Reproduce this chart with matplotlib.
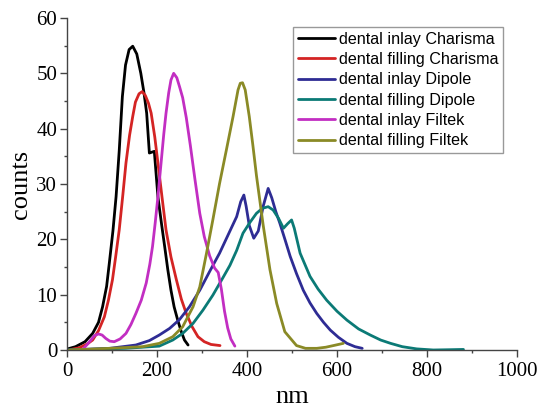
import matplotlib
matplotlib.use("Agg")
import matplotlib.pyplot as plt
from matplotlib.ticker import MultipleLocator

# Size distributions (x in nm, y in counts)
inlay_charisma_x = [1.5, 19, 40, 57, 70, 79, 88, 94, 102, 109, 116, 123, 130, 138, 146,
                    155, 164, 171, 177, 183, 194, 202, 210, 217, 224, 231, 238, 246, 254,
                    261, 269]
inlay_charisma_y = [0.2, 0.6, 1.5, 3.0, 5.0, 7.8, 11.5, 15.7, 21.5, 27.7, 36.0, 45.8, 51.5, 54.3, 54.9,
                    53.5, 50.0, 46.5, 42.8, 35.6, 35.9, 27.7, 22.8, 18.7, 14.5, 10.8, 7.8, 5.4, 3.3,
                    1.8, 0.9]

filling_charisma_x = [9, 27, 45, 57, 70, 83, 92, 101, 108, 116, 124, 131, 139, 146, 152,
                      160, 167, 174, 181, 187, 195, 202, 211, 220, 231, 243, 254, 265, 278,
                      291, 305, 320, 340]
filling_charisma_y = [0.1, 0.4, 1.1, 1.8, 3.5, 6.0, 9.0, 12.7, 16.8, 21.7, 28.0, 33.8, 38.8, 42.2, 44.8,
                      46.3, 46.7, 46.0, 44.6, 42.8, 38.5, 33.8, 27.7, 21.7, 16.8, 12.7, 9.2, 6.6, 4.2,
                      2.4, 1.5, 1.0, 0.8]

inlay_dipole_x = [1.5, 95, 153, 183, 205, 228, 250, 272, 295, 317, 339, 362, 377, 386, 393,
                  398, 405, 415, 425, 436, 447, 455, 464, 473, 485, 496, 510, 525, 540, 555,
                  570, 585, 603, 622, 640, 656]
inlay_dipole_y = [0.0, 0.3, 0.9, 1.7, 2.7, 3.9, 5.5, 7.8, 10.8, 14.2, 17.5, 21.5, 24.1, 26.8, 28.0,
                  26.0, 22.5, 20.2, 21.5, 26.0, 29.2, 27.5, 25.0, 22.9, 19.8, 16.9, 13.8, 10.8, 8.5, 6.6,
                  5.0, 3.6, 2.3, 1.2, 0.6, 0.3]

filling_dipole_x = [1.5, 130, 205, 235, 257, 280, 302, 324, 346, 362, 377, 391, 406, 421, 434,
                    447, 458, 470, 481, 490, 499, 505, 518, 540, 558, 577, 600, 622, 648, 674,
                    697, 719, 745, 777, 814, 850, 881]
filling_dipole_y = [0.0, 0.3, 0.7, 1.8, 3.0, 4.8, 7.2, 9.9, 13.0, 15.3, 18.0, 21.1, 23.0, 24.7, 25.6,
                    25.9, 25.3, 23.8, 22.0, 22.8, 23.5, 22.0, 17.5, 13.3, 11.0, 9.0, 7.0, 5.4, 3.8, 2.7,
                    1.8, 1.2, 0.6, 0.2, 0.0, 0.05, 0.1]

inlay_filtek_x = [35, 38, 45, 53, 61, 70, 78, 86, 95, 105, 118, 131, 142, 153, 165,
                  176, 184, 190, 196, 202, 209, 215, 220, 226, 231, 237, 244, 250, 257,
                  265, 274, 284, 295, 305, 317, 328, 336, 343, 350, 357, 364, 373]
inlay_filtek_y = [0.1, 0.4, 1.0, 1.8, 2.6, 2.9, 2.7, 2.1, 1.6, 1.5, 2.0, 3.0, 4.6, 6.6, 9.0,
                  12.1, 15.5, 18.7, 23.0, 27.7, 33.8, 39.0, 42.8, 46.5, 48.8, 50.0, 49.2, 47.6, 45.6,
                  42.0, 37.0, 31.0, 24.7, 20.5, 17.0, 14.8, 14.0, 11.0, 7.0, 4.0, 2.0, 0.7]

filling_filtek_x = [4, 95, 168, 205, 235, 257, 280, 295, 310, 324, 339, 354, 369, 380, 385,
                    390, 396, 405, 413, 421, 436, 451, 466, 484, 510, 530, 555, 575, 592, 614]
filling_filtek_y = [0.0, 0.3, 0.6, 1.2, 2.4, 4.2, 7.8, 11.4, 17.5, 23.5, 30.1, 36.1, 42.2, 47.0, 48.2,
                    48.3, 47.0, 42.2, 37.0, 31.5, 22.5, 14.5, 8.4, 3.3, 0.8, 0.3, 0.3, 0.5, 0.8, 1.2]

SERIES = [
    ("dental inlay Charisma",   inlay_charisma_x,   inlay_charisma_y,   "#000000"),
    ("dental filling Charisma", filling_charisma_x, filling_charisma_y, "#d42424"),
    ("dental inlay Dipole",     inlay_dipole_x,     inlay_dipole_y,     "#2e2c94"),
    ("dental filling Dipole",   filling_dipole_x,   filling_dipole_y,   "#0b7a76"),
    ("dental inlay Filtek",     inlay_filtek_x,     inlay_filtek_y,     "#c22ec2"),
    ("dental filling Filtek",   filling_filtek_x,   filling_filtek_y,   "#8a8a26"),
]

fig = plt.figure(figsize=(5.44, 4.12), dpi=100)
ax = fig.add_axes([0.1232, 0.1505, 0.8272, 0.8058])

for label, xs, ys, color in SERIES:
    ax.plot(xs, ys, color=color, lw=2.0, label=label,
            solid_joinstyle="round", solid_capstyle="round")

ax.set_xlim(0, 1000)
ax.set_ylim(0, 60)
ax.xaxis.set_major_locator(MultipleLocator(200))
ax.xaxis.set_minor_locator(MultipleLocator(100))
ax.yaxis.set_major_locator(MultipleLocator(10))
ax.yaxis.set_minor_locator(MultipleLocator(5))

for side in ("top", "right"):
    ax.spines[side].set_visible(False)
for side in ("left", "bottom"):
    ax.spines[side].set_color("#444444")
    ax.spines[side].set_linewidth(1.0)

serif = ["Liberation Serif", "DejaVu Serif"]
ax.tick_params(which="major", direction="out", length=5, width=1.0, color="#444444",
               labelsize=15)
ax.tick_params(which="minor", direction="out", length=2.5, width=1.0, color="#444444")
ax.tick_params(axis="x", which="major", pad=4)
ax.tick_params(axis="y", which="major", pad=2)
for lbl in ax.get_xticklabels() + ax.get_yticklabels():
    lbl.set_family(serif)

ax.set_xlabel("nm", fontsize=19, family=serif, labelpad=3)
ax.set_ylabel("counts", fontsize=19, family=serif, labelpad=3)

leg = ax.legend(loc="upper right", bbox_to_anchor=(0.969, 0.973), borderaxespad=0,
                prop={"family": ["Liberation Sans", "DejaVu Sans"], "size": 11.6},
                fancybox=False, framealpha=1, edgecolor="#999999",
                handlelength=2.3, handletextpad=0.25, labelspacing=0.33, borderpad=0.3)
leg.get_frame().set_linewidth(1.0)

fig.savefig("out.png", dpi=100)
